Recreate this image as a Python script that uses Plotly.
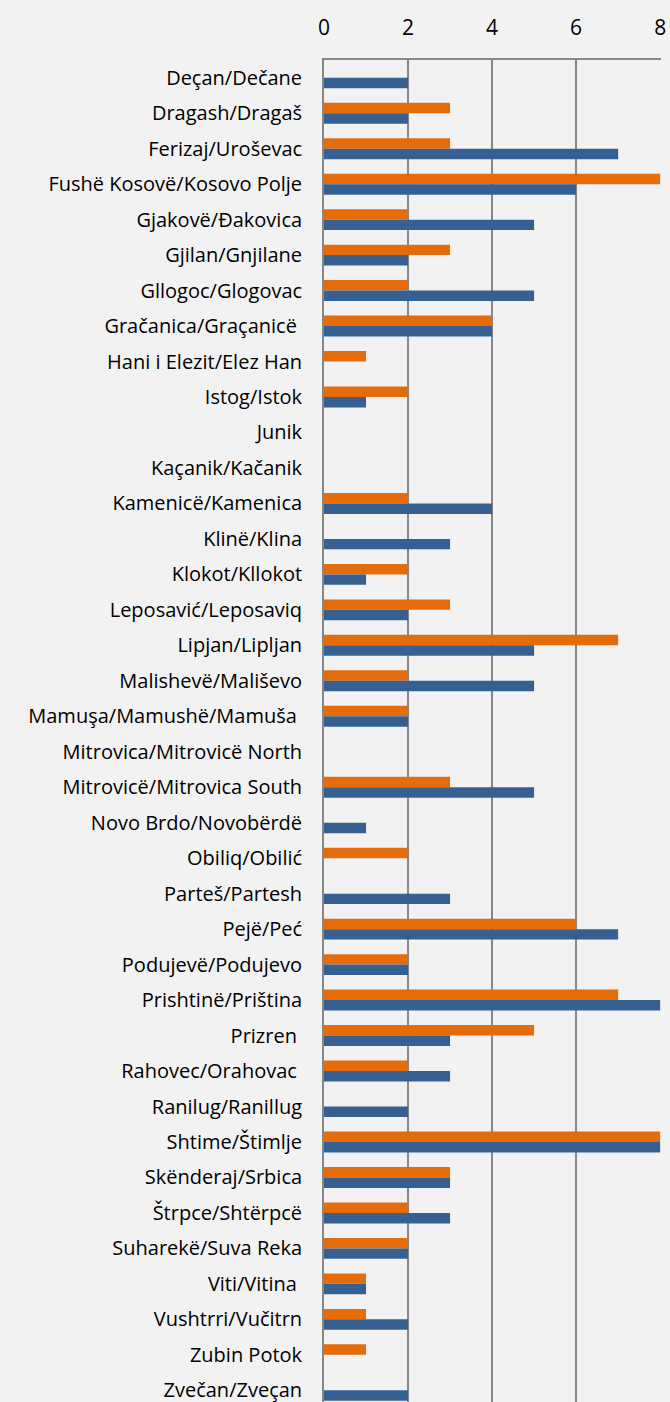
import plotly.graph_objects as go

categories = [
    "Deçan/Dečane", "Dragash/Dragaš", "Ferizaj/Uroševac", "Fushë Kosovë/Kosovo Polje",
    "Gjakovë/Đakovica", "Gjilan/Gnjilane", "Gllogoc/Glogovac", "Gračanica/Graçanicë\u00a0",
    "Hani i Elezit/Elez Han", "Istog/Istok", "Junik", "Kaçanik/Kačanik",
    "Kamenicë/Kamenica", "Klinë/Klina", "Klokot/Kllokot", "Leposavić/Leposaviq",
    "Lipjan/Lipljan", "Malishevë/Mališevo", "Mamuşa/Mamushë/Mamuša\u00a0",
    "Mitrovica/Mitrovicë North", "Mitrovicë/Mitrovica South", "Novo Brdo/Novobërdë",
    "Obiliq/Obilić", "Parteš/Partesh", "Pejë/Peć", "Podujevë/Podujevo",
    "Prishtinë/Priština", "Prizren\u00a0", "Rahovec/Orahovac\u00a0", "Ranilug/Ranillug",
    "Shtime/Štimlje", "Skënderaj/Srbica", "Štrpce/Shtërpcë", "Suharekë/Suva Reka",
    "Viti/Vitina\u00a0", "Vushtrri/Vučitrn", "Zubin Potok", "Zvečan/Zveçan",
]

orange_values = [0, 3, 3, 8, 2, 3, 2, 4, 1, 2, 0, 0, 2, 0, 2, 3, 7, 2, 2, 0,
                 3, 0, 2, 0, 6, 2, 7, 5, 2, 0, 8, 3, 2, 2, 1, 1, 1, 0]
blue_values = [2, 2, 7, 6, 5, 2, 5, 4, 0, 1, 0, 0, 4, 3, 1, 2, 5, 5, 2, 0,
               5, 1, 0, 3, 7, 2, 8, 3, 3, 2, 8, 3, 3, 2, 1, 2, 0, 2]

x_ticks = [0, 2, 4, 6, 8]

ORANGE = "#E46C0A"
BLUE = "#366092"
GRID = "#878787"
BG = "#F2F2F2"

fig = go.Figure()
fig.add_trace(go.Bar(
    y=categories, x=orange_values, orientation="h",
    marker=dict(color=ORANGE, line=dict(width=0)),
    name="Series 2",
))
fig.add_trace(go.Bar(
    y=categories, x=blue_values, orientation="h",
    marker=dict(color=BLUE, line=dict(width=0)),
    name="Series 1",
))

font_family = "'Open Sans', Lato, sans-serif"

fig.update_layout(
    width=670, height=1402,
    margin=dict(l=324, r=9, t=60, b=0),
    paper_bgcolor=BG, plot_bgcolor=BG,
    barmode="group", bargap=0.41, bargroupgap=0,
    showlegend=False,
    font=dict(family=font_family, color="#000000", size=18),
    xaxis=dict(
        side="top", range=[0, 8.02], tickvals=x_ticks,
        ticktext=[str(v) for v in x_ticks],
        showgrid=True, gridcolor=GRID, gridwidth=1.8,
        zeroline=False, showline=True, linecolor=GRID, linewidth=1.8,
        ticks="", ticklabelstandoff=15,
        tickfont=dict(size=21, family=font_family, color="#000000"),
        fixedrange=True,
    ),
    yaxis=dict(
        type="category", categoryorder="array", categoryarray=categories,
        range=[37.33, -0.5],
        showgrid=False, zeroline=False,
        showline=True, linecolor=GRID, linewidth=1.8,
        ticks="", ticklabelstandoff=16,
        tickfont=dict(size=20, family=font_family, color="#000000"),
        fixedrange=True,
    ),
)

post = ("document.body.style.margin='0';"
        "document.body.style.background='#F2F2F2';"
        "document.documentElement.style.background='#F2F2F2';"
        "document.body.style.overflow='hidden';")

fig.write_html("out.html", post_script=post, config={"displayModeBar": False})
